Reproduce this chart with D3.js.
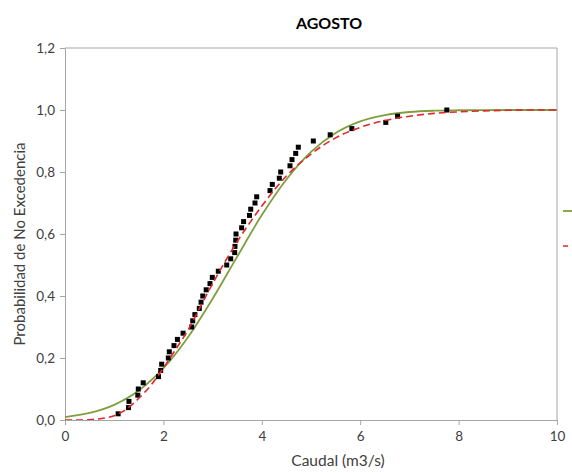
<!DOCTYPE html>
<html>
<head>
<meta charset="utf-8">
<script src="https://cdn.jsdelivr.net/npm/d3@7"></script>
<style>
  html, body { margin: 0; padding: 0; background: #ffffff; }
  svg { display: block; }
  text { font-family: Lato, "Open Sans", "Liberation Sans", sans-serif; }
</style>
</head>
<body>
<svg id="chart" width="572" height="473"></svg>
<script>
// ---------- data ----------
const chartTitle = "AGOSTO";
const xLabel = "Caudal (m3/s)";
const yLabel = "Probabilidad de No Excedencia";

const xTicks = [0, 2, 4, 6, 8, 10];
const xTickLabels = ["0", "2", "4", "6", "8", "10"];
const yTicks = [0, 0.2, 0.4, 0.6, 0.8, 1.0, 1.2];
const yTickLabels = ["0,0", "0,2", "0,4", "0,6", "0,8", "1,0", "1,2"];

// observed flows (sorted) and their non-exceedance probability
const obsQ = [1.08, 1.29, 1.30, 1.48, 1.49, 1.59, 1.90, 1.945, 1.965, 2.10,
              2.12, 2.215, 2.285, 2.40, 2.575, 2.596, 2.64, 2.73, 2.765, 2.80,
              2.87, 2.947, 2.994, 3.116, 3.287, 3.368, 3.449, 3.455, 3.47, 3.476,
              3.59, 3.63, 3.75, 3.775, 3.862, 3.896, 4.167, 4.213, 4.356, 4.384,
              4.573, 4.614, 4.689, 4.742, 5.047, 5.39, 5.83, 6.52, 6.76, 7.76];
const obsP = [0.02, 0.04, 0.06, 0.08, 0.10, 0.12, 0.14, 0.16, 0.18, 0.20,
              0.22, 0.24, 0.26, 0.28, 0.30, 0.32, 0.34, 0.36, 0.38, 0.40,
              0.42, 0.44, 0.46, 0.48, 0.50, 0.52, 0.54, 0.56, 0.58, 0.60,
              0.62, 0.64, 0.66, 0.68, 0.70, 0.72, 0.74, 0.76, 0.78, 0.80,
              0.82, 0.84, 0.86, 0.88, 0.90, 0.92, 0.94, 0.96, 0.98, 1.00];

// green solid fitted curve
const greenQ = [0, 0.5, 1.0, 1.5, 2.0, 2.5, 3.0, 3.5, 4.0, 4.5, 5.0, 5.5, 6.0, 6.5, 7.0, 7.5, 8.0, 8.5, 9.0, 10.0];
const greenP = [0.0095, 0.0228, 0.049, 0.095, 0.167, 0.267, 0.391, 0.527, 0.661, 0.776, 0.865, 0.926, 0.9635, 0.9837, 0.9935, 0.9977, 0.9992, 0.9998, 1.0, 1.0];

// red dashed fitted curve
const redQ = [0, 0.25, 0.5, 0.75, 1.0, 1.25, 1.5, 1.75, 2.0, 2.25, 2.5, 2.75, 3.0, 3.25, 3.5, 3.75, 4.0, 4.5, 5.0, 5.5, 6.0, 6.5, 7.0, 7.5, 8.0, 8.5, 9.0, 9.5, 10.0];
const redP = [0, 0, 0.001, 0.005, 0.014, 0.035, 0.07, 0.113, 0.168, 0.228, 0.29, 0.365, 0.44, 0.51, 0.575, 0.635, 0.69, 0.787, 0.858, 0.91, 0.944, 0.966, 0.98, 0.989, 0.994, 0.997, 0.999, 1.0, 1.0];

// ---------- layout ----------
const svg = d3.select("#chart");
const mLeft = 65, mRight = 557, mTop = 48, mBottom = 420;

const x = d3.scaleLinear().domain([0, 10]).range([mLeft, mRight]);
const y = d3.scaleLinear().domain([0, 1.2]).range([mBottom, mTop]);

const axisColor = "#a6a6a6";
const textColor = "#404040";

// plot border (top / right)
svg.append("line").attr("x1", mLeft).attr("x2", mRight).attr("y1", mTop).attr("y2", mTop)
  .attr("stroke", axisColor).attr("stroke-width", 1);
svg.append("line").attr("x1", mRight).attr("x2", mRight).attr("y1", mTop).attr("y2", mBottom)
  .attr("stroke", axisColor).attr("stroke-width", 1);

// x axis
const xAxis = d3.axisBottom(x).tickValues(xTicks)
  .tickFormat((d, i) => xTickLabels[i]).tickSize(5).tickSizeOuter(0).tickPadding(6);
const gx = svg.append("g").attr("transform", `translate(0,${mBottom})`).call(xAxis);
gx.select(".domain").attr("stroke", axisColor);
gx.selectAll(".tick line").attr("stroke", axisColor);
gx.selectAll(".tick text").attr("fill", textColor).attr("font-size", 13.5);

// y axis
const yAxis = d3.axisLeft(y).tickValues(yTicks)
  .tickFormat((d, i) => yTickLabels[i]).tickSize(5).tickSizeOuter(0).tickPadding(5);
const gy = svg.append("g").attr("transform", `translate(${mLeft},0)`).call(yAxis);
gy.select(".domain").attr("stroke", axisColor);
gy.selectAll(".tick line").attr("stroke", axisColor);
gy.selectAll(".tick text").attr("fill", textColor).attr("font-size", 13.5);

// clip for curves
svg.append("clipPath").attr("id", "plotclip").append("rect")
  .attr("x", mLeft).attr("y", mTop - 2).attr("width", mRight - mLeft).attr("height", mBottom - mTop + 2);

const line = d3.line().x(d => x(d[0])).y(d => y(d[1])).curve(d3.curveMonotoneX);

// green curve
svg.append("path")
  .datum(greenQ.map((q, i) => [q, greenP[i]]))
  .attr("d", line)
  .attr("fill", "none").attr("stroke", "#7f9f3f").attr("stroke-width", 1.8)
  .attr("clip-path", "url(#plotclip)");

// observed points
svg.append("g").selectAll("rect")
  .data(obsQ.map((q, i) => [q, obsP[i]]))
  .join("rect")
  .attr("x", d => x(d[0]) - 2.5).attr("y", d => y(d[1]) - 2.5)
  .attr("width", 5).attr("height", 5).attr("fill", "#000");

// red dashed curve
svg.append("path")
  .datum(redQ.map((q, i) => [q, redP[i]]))
  .attr("d", line)
  .attr("fill", "none").attr("stroke", "#e3262a").attr("stroke-width", 1.6)
  .attr("stroke-dasharray", "7,4")
  .attr("clip-path", "url(#plotclip)");

// legend (cut off at right edge)
svg.append("line").attr("x1", 563).attr("x2", 590).attr("y1", 211).attr("y2", 211)
  .attr("stroke", "#7f9f3f").attr("stroke-width", 1.8);
svg.append("line").attr("x1", 563).attr("x2", 590).attr("y1", 246).attr("y2", 246)
  .attr("stroke", "#e3262a").attr("stroke-width", 1.6).attr("stroke-dasharray", "5,4");

// title
svg.append("text").attr("x", 329).attr("y", 29).attr("text-anchor", "middle")
  .attr("font-size", 16).attr("font-weight", "bold").attr("fill", "#000")
  .text(chartTitle);

// axis titles
svg.append("text").attr("x", 338).attr("y", 466).attr("text-anchor", "middle")
  .attr("font-size", 15.5).attr("fill", textColor).text(xLabel);
svg.append("text").attr("transform", `translate(25,${(mTop + mBottom) / 2 + 10}) rotate(-90)`)
  .attr("text-anchor", "middle").attr("font-size", 15).attr("fill", textColor).text(yLabel);
</script>
</body>
</html>
